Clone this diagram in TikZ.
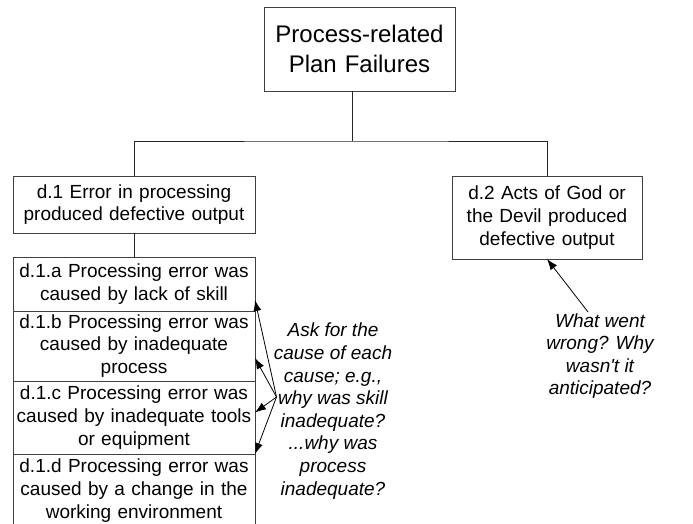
\documentclass[tikz,border=0pt]{standalone}
\usepackage{fontspec}
\setmainfont{Liberation Sans}
\usetikzlibrary{positioning}
\usetikzlibrary{arrows.meta}

\begin{document}
\begin{tikzpicture}[x=1pt,y=-1pt,
        box/.style={draw=black!75,line width=0.9pt,outer sep=0pt,inner xsep=3pt,inner ysep=0pt,
                    align=center,font=\fontsize{19}{22.6}\selectfont},
        note/.style={align=center,font=\fontsize{19}{22.6}\selectfont\itshape},
        link/.style={draw=black!85,line width=0.9pt},
        ask/.style={-{Latex[length=11pt,width=8pt]},line width=0.8pt}]

    \useasboundingbox (0,0) rectangle (693,524);

    %root of the tree
    \node[box,text width=185pt,minimum height=84pt,font=\fontsize{24}{30}\selectfont] (top) at (359.5,49) {Process-related\\Plan Failures};

    %second level
    \node[box,text width=236pt,minimum height=57pt] (d1) at (134,204.5) {d.1 Error in processing\\produced defective output};
    \node[box,text width=184pt,minimum height=83pt] (d2) at (547,217.5) {d.2 Acts of God or\\the Devil produced\\defective output};

    %causes of d.1, stacked one under the other
    \node[box,text width=236pt,minimum height=54pt] (d1a) at (134,284) {d.1.a Processing error was\\caused by lack of skill};
    \node[box,text width=236pt,minimum height=70pt,below=0pt of d1a] (d1b) {d.1.b Processing error was\\caused by inadequate\\process};
    \node[box,text width=236pt,minimum height=73pt,below=0pt of d1b] (d1c) {d.1.c Processing error was\\caused by inadequate tools\\or equipment};
    \node[box,text width=236pt,minimum height=73pt,below=0pt of d1c] (d1d) {d.1.d Processing error was\\caused by a change in the\\working environment};

    %tree lines
    \coordinate (bus) at (352,141);
    \draw[link] (top.south -| bus) -- (bus);
    \draw[link] (d1.north) |- (bus) -| (d2.north);
    \draw[link] (d1.south) -- (d1a.north);

    %questions
    \node[note] (why) at (333,411) {Ask for the\\cause of each\\cause; e.g.,\\why was skill\\inadequate?\\...why was\\process\\inadequate?};
    \node[note] (went) at (600,356) {What went\\wrong? Why\\wasn\textquotesingle t it\\anticipated?};

    \coordinate (whyfrom) at (276.5,397);
    \draw[ask] (whyfrom) -- ([yshift=11pt]d1a.south east);
    \draw[ask] (whyfrom) -- ([yshift=23pt]d1b.south east);
    \draw[ask] (whyfrom) -- ([yshift=5pt]d1c.east);
    \draw[ask] (whyfrom) -- (d1d.north east);

    \coordinate (wentfrom) at (588,312);
    \draw[ask] (wentfrom) -- (d2.south);

\end{tikzpicture}
\end{document}
